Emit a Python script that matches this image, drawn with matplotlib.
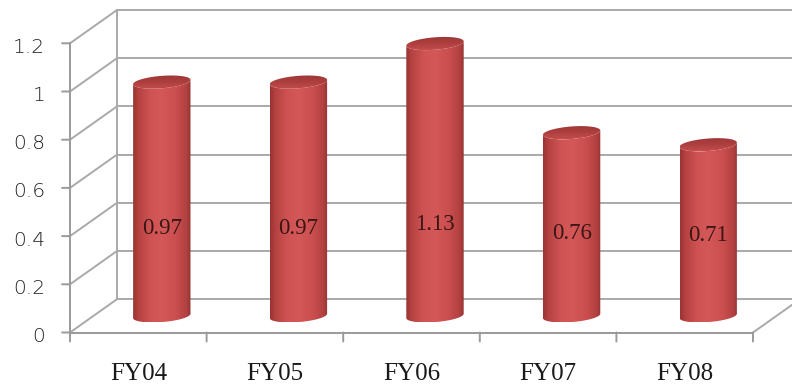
import numpy as np
import matplotlib
matplotlib.use("Agg")
import matplotlib.pyplot as plt
from matplotlib.patches import Polygon
from matplotlib.colors import LinearSegmentedColormap

# ---- data ----
categories = ["FY04", "FY05", "FY06", "FY07", "FY08"]
values = [0.97, 0.97, 1.13, 0.76, 0.71]
value_ticks = [0, 0.2, 0.4, 0.6, 0.8, 1.0, 1.2]
tick_labels = ["0", "0.2", "0.4", "0.6", "0.8", "1", "1.2"]

# ---- canvas / scale set-up ----
W, H, DPI = 792, 392, 100
fig = plt.figure(figsize=(W / DPI, H / DPI), dpi=DPI)
ax = fig.add_axes([0, 0, 1, 1])
ax.set_axis_off()

PX_X = 136.6        # pixels per category slot
PX_Y = 241.0        # pixels per 1.0 of value
LEFT_PX, BASE_PX = 70, 332.5
x_lo = -0.5 - LEFT_PX / PX_X
x_hi = x_lo + W / PX_X
y_lo = -(H - BASE_PX) / PX_Y
y_hi = y_lo + H / PX_Y

# oblique depth of the pseudo-3D box
DX = 47 / PX_X
DY = 33.3 / PX_Y

GRID = "#a9a9a9"
AXIS = "#9a9a9a"
n = len(categories)
x_left, x_right = -0.5, n - 0.5

# side wall + back wall gridlines
for v in value_ticks:
    ax.plot([x_left, x_left + DX], [v, v + DY], color=GRID, lw=1.4,
            solid_capstyle="butt", zorder=1)
    ax.plot([x_left + DX, x_hi + 1], [v + DY, v + DY], color=GRID, lw=1.4,
            solid_capstyle="butt", zorder=1)
ax.plot([x_left + DX, x_left + DX], [DY, value_ticks[-1] + DY], color=GRID,
        lw=1.4, zorder=1)

# front value axis with tick marks
ax.plot([x_left, x_left], [0, value_ticks[-1]], color=AXIS, lw=1.4, zorder=2)
for v, lab in zip(value_ticks, tick_labels):
    ax.annotate("", xy=(x_left, v), xytext=(-8, 0), textcoords="offset pixels",
                arrowprops=dict(arrowstyle="-", color=AXIS, lw=1.4,
                                shrinkA=0, shrinkB=0))
    ax.annotate(lab, xy=(x_left, v), xytext=(-25, -4),
                textcoords="offset pixels", ha="right", va="center",
                fontsize=14.5, color="#222222", family="DejaVu Sans",
                fontweight="light")

# floor: front edge, right edge and category tick marks
ax.plot([x_left, x_right], [0, 0], color=AXIS, lw=1.4, zorder=2)
ax.plot([x_right, x_right + DX], [0, DY], color=GRID, lw=1.4, zorder=2)
for k in range(n + 1):
    xb = x_left + k
    ax.annotate("", xy=(xb, 0), xytext=(0, -9), textcoords="offset pixels",
                arrowprops=dict(arrowstyle="-", color=AXIS, lw=1.4,
                                shrinkA=0, shrinkB=0))

# category labels
for i, c in enumerate(categories):
    ax.annotate(c, xy=(i, 0), xytext=(0, -42), textcoords="offset pixels",
                ha="center", va="center", fontsize=18,
                family="Liberation Serif", color="#1a1a1a")

# ---- cylinders ----
body_cmap = LinearSegmentedColormap.from_list(
    "body",
    [(0.0, "#9a3333"), (0.1, "#b64242"), (0.3, "#cf5353"), (0.5, "#d45858"),
     (0.75, "#ca4e4e"), (0.92, "#b24141"), (1.0, "#983333")])
top_cmap = LinearSegmentedColormap.from_list(
    "top", [(0.0, "#c44c4c"), (0.55, "#ab3d3d"), (1.0, "#9e3838")])

R_PX, S_PX = 27.1, 11.5
UX, UY = 0.819, 0.574


def ellipse(cx, cy, m=360):
    t = np.linspace(0, 2 * np.pi, m, endpoint=False)
    xp = R_PX * np.cos(t) + S_PX * UX * np.sin(t)
    yp = S_PX * UY * np.sin(t)
    return cx + xp / PX_X, cy + yp / PX_Y


def lower_arc(xs, ys):
    m = len(xs)
    i0, i1 = int(np.argmin(xs)), int(np.argmax(xs))
    idx = [(i0 + k) % m for k in range(((i1 - i0) % m) + 1)]
    return xs[idx], ys[idx]


grad = np.linspace(0, 1, 256).reshape(1, -1)
vgrad = np.linspace(0, 1, 64).reshape(-1, 1)

for i, v in enumerate(values):
    cx = i + DX / 2
    y0 = DY / 2
    y1 = v + DY / 2
    bx, by = ellipse(cx, y0)
    tx, ty = ellipse(cx, y1)
    lbx, lby = lower_arc(bx, by)
    ltx, lty = lower_arc(tx, ty)
    body = np.column_stack([np.r_[lbx, ltx[::-1]], np.r_[lby, lty[::-1]]])
    body_patch = Polygon(body, closed=True, facecolor="none",
                         edgecolor="none", zorder=3)
    ax.add_patch(body_patch)
    im = ax.imshow(grad, cmap=body_cmap, aspect="auto",
                   extent=[bx.min(), bx.max(), by.min(), ty.max()],
                   zorder=3, interpolation="bilinear")
    im.set_clip_path(body_patch)

    top_patch = Polygon(np.column_stack([tx, ty]), closed=True,
                        facecolor="none", edgecolor="none", zorder=4)
    ax.add_patch(top_patch)
    imt = ax.imshow(vgrad, cmap=top_cmap, aspect="auto", origin="lower",
                    extent=[tx.min(), tx.max(), ty.min(), ty.max()],
                    zorder=4, interpolation="bilinear")
    imt.set_clip_path(top_patch)

    # value label on the cylinder
    ax.text(cx, 0.327 + 0.108 * v, f"{v:.2f}", ha="center", va="center",
            fontsize=16.5, family="Liberation Serif", color="#3a1616",
            zorder=6)

ax.set_xlim(x_lo, x_hi)
ax.set_ylim(y_lo, y_hi)

fig.savefig("out.png", dpi=DPI, facecolor="white")
